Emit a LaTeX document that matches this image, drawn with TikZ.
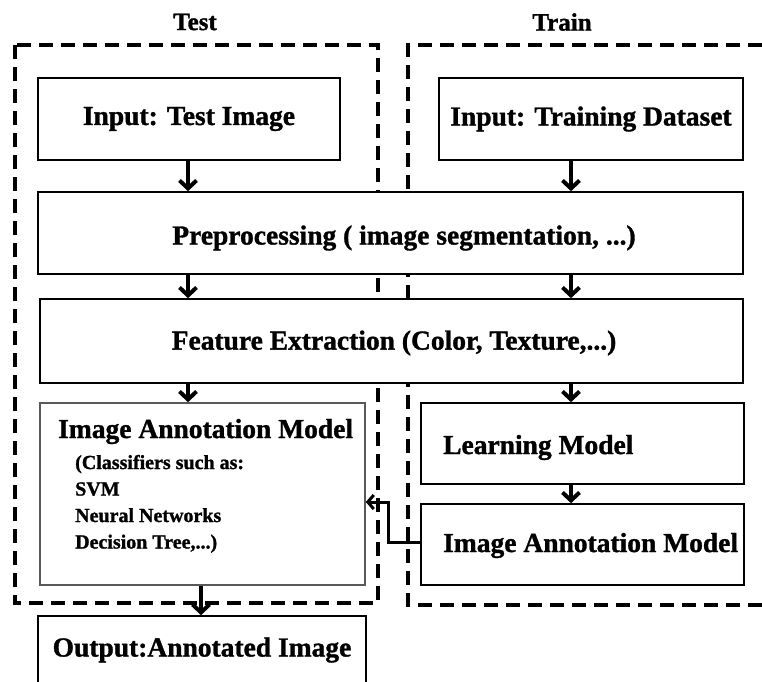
\documentclass[tikz,border=0pt]{standalone}
\usepackage{fontspec}
\setmainfont{Liberation Serif}[BoldFeatures={FakeBold=1.2}]
\usetikzlibrary{arrows.meta}
\begin{document}
\begin{tikzpicture}[x=1pt,y=-1pt,
  grp/.style={line width=4pt,dash pattern=on 14pt off 8pt},
  box/.style={draw=black,line width=1.6pt,fill=white,inner sep=0pt,font=\bfseries\fontsize{27.5}{30}\selectfont},
  big/.style={inner sep=0pt,font=\bfseries\fontsize{27.5}{30}\selectfont},
  lbl/.style={inner sep=0pt,font=\bfseries\fontsize{25}{28}\selectfont},
  small/.style={inner sep=0pt,anchor=base west,font=\bfseries\fontsize{20}{24}\selectfont},
  arr/.style={line width=4pt,-{Straight Barb[length=8pt,width=17pt]}},
  fb/.style={line width=3pt,-{Straight Barb[length=6pt,width=14pt]}}]
\useasboundingbox (0,0) rectangle (762,681);
% column guides
\coordinate (colL) at (188,0);
\coordinate (colR) at (571,0);
\coordinate (colO) at (201,0);
\coordinate (fbx) at (388,0);
% group frames
\draw[grp] (15,45) rectangle (378,603);
\draw[grp] (762,45) -- (408,45) -- (408,605) -- (762,605);
\node[lbl] (testlbl) at (195,22) {Test};
\node[lbl] (trainlbl) at (562,22) {Train};
% boxes
\node[box,minimum width=302pt,minimum height=82pt] (it) at (189,119) {Input: Test Image};
\node[box,minimum width=304pt,minimum height=82pt] (trd) at (591,119) {Input: Training Dataset};
\node[box,minimum width=705pt,minimum height=82pt] (pre) at (390.5,233) {};
\node[big] (pret) at (404,238) {Preprocessing ( image segmentation, ...)};
\node[box,minimum width=703pt,minimum height=84pt] (fe) at (391.5,341) {};
\node[big] (fet) at (394,343) {Feature Extraction (Color, Texture,...)};
\node[box,draw=black!65,minimum width=325pt,minimum height=182pt] (liam) at (202.5,494) {};
\node[big,anchor=base west] (liamt) at (58,438) {Image Annotation Model};
\node[small] (c1) at (75,469) {(Classifiers such as:};
\node[small] (c2) at (75,495.5) {SVM};
\node[small] (c3) at (75,522) {Neural Networks};
\node[small] (c4) at (75,548.5) {Decision Tree,...)};
\node[box,minimum width=323pt,minimum height=81pt] (lm) at (582.5,443.5) {};
\node[big,anchor=base west] (lmt) at (443,454) {Learning Model};
\node[box,minimum width=323pt,minimum height=81pt] (riam) at (582.5,544.5) {};
\node[big,anchor=base west] (riamt) at (443,552) {Image Annotation Model};
\node[box,minimum width=328pt,minimum height=68pt] (out) at (202,650) {Output:Annotated Image};
% arrows
\draw[arr] (it.south -| colL) -- (pre.north -| colL);
\draw[arr] (trd.south -| colR) -- (pre.north -| colR);
\draw[arr] (pre.south -| colL) -- (fe.north -| colL);
\draw[arr] (pre.south -| colR) -- (fe.north -| colR);
\draw[arr] (fe.south -| colL) -- (liam.north -| colL);
\draw[arr] (fe.south -| colR) -- (lm.north -| colR);
\draw[arr] (lm.south -| colR) -- (riam.north -| colR);
\draw[arr] (liam.south -| colO) -- (out.north -| colO);
% feedback
\coordinate (fbs) at (421,542);
\coordinate (fbe) at (365,502);
\draw[fb] (riam.west |- fbs) -- (fbx |- fbs) -- (fbx |- fbe) -- (liam.east |- fbe);
\end{tikzpicture}
\end{document}
